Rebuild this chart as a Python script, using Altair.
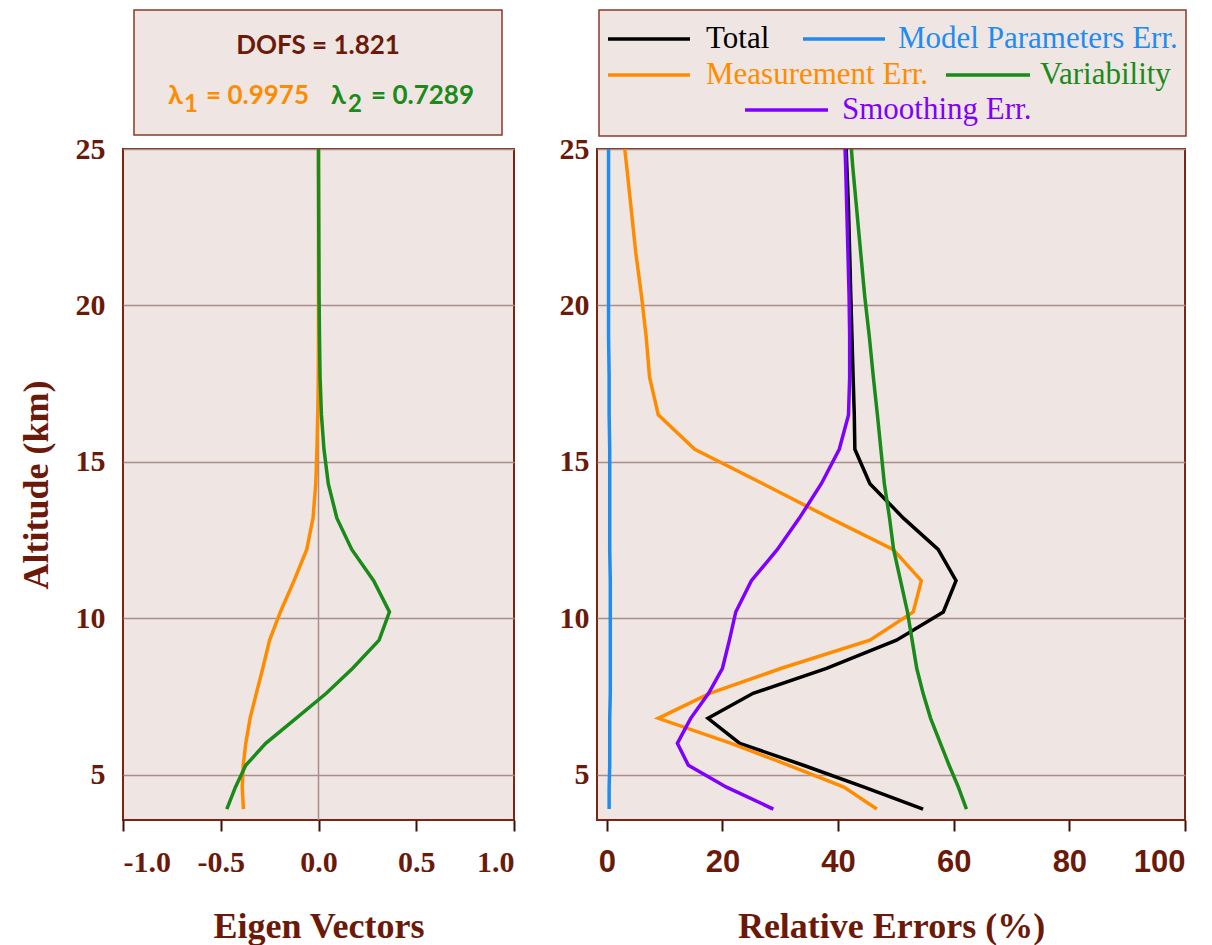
import altair as alt
import pandas as pd

# ---------------- data ----------------
altitude = [3.9, 4.6, 5.3, 6.0, 6.8, 7.6, 8.4, 9.3, 10.2, 11.2, 12.2, 13.2,
            14.3, 15.4, 16.5, 17.7, 19.0, 20.3, 21.7, 23.1, 24.5, 25.0]

eigvec_1 = [-0.384, -0.39, -0.385, -0.372, -0.35, -0.318, -0.285, -0.25, -0.195,
            -0.125, -0.06, -0.028, -0.014, -0.008, -0.004, -0.001, 0.0, 0.0, 0.0,
            0.0, 0.0, 0.0]
eigvec_2 = [-0.469, -0.425, -0.372, -0.27, -0.115, 0.04, 0.175, 0.31, 0.363, 0.282,
            0.17, 0.094, 0.05, 0.028, 0.015, 0.008, 0.005, 0.003, 0.002, 0.001,
            0.0, 0.0]

total = [54.7, 44.5, 34.0, 23.0, 17.5, 25.3, 38.0, 50.1, 58.2, 60.4, 57.3, 51.3,
         45.5, 42.9, 42.8, 42.6, 42.4, 42.2, 42.0, 41.8, 41.5, 41.4]
model_params = [0.4, 0.4, 0.5, 0.5, 0.5, 0.6, 0.6, 0.6, 0.6, 0.6, 0.5, 0.5, 0.5,
                0.5, 0.4, 0.4, 0.3, 0.3, 0.3, 0.3, 0.3, 0.3]
measurement = [46.7, 41.0, 31.5, 21.5, 8.9, 17.8, 30.2, 45.5, 53.0, 54.4, 49.5,
               38.6, 27.0, 15.2, 8.9, 7.4, 6.8, 6.0, 5.0, 4.2, 3.4, 3.1]
smoothing = [28.8, 20.7, 14.1, 12.2, 14.5, 17.6, 20.0, 21.2, 22.3, 25.0, 29.5, 33.3,
             37.1, 40.2, 41.8, 42.0, 42.0, 41.9, 41.7, 41.5, 41.3, 41.2]
variability = [62.2, 60.8, 59.2, 57.7, 56.0, 54.7, 53.6, 52.8, 52.0, 50.8, 49.6,
               48.9, 48.0, 47.4, 46.8, 46.1, 45.4, 44.6, 43.9, 43.2, 42.5, 42.3]

eig_ticks = [-1.0, -0.5, 0.0, 0.5, 1.0]
err_ticks = [0, 20, 40, 60, 80, 100]
alt_ticks = [5, 10, 15, 20, 25]

# ---------------- styles ----------------
SERIF = "Liberation Serif"
NARROW = "Liberation Sans Narrow, Arial Narrow, Liberation Sans"
SANS = "Lato"
LABEL = "#6B1A0A"
FRAME = "#7B2512"
BOXLINE = "#8A3A2A"
GRID = "#A88E88"
BG = "#EFE6E3"
TICK = "#3A1208"
LW = 3.5

C_ORANGE = "#FF8C00"
C_GREEN = "#1A8A1A"
C_BLUE = "#1E8CF0"
C_PURPLE = "#7F00FF"
C_BLACK = "#000000"

n = len(altitude)
left_df = pd.DataFrame({
    "alt": altitude * 2,
    "value": eigvec_1 + eigvec_2,
    "series": ["lambda1"] * n + ["lambda2"] * n,
})
right_names = ["Model", "Total", "Measurement", "Smoothing", "Variability"]
right_vals = [model_params, total, measurement, smoothing, variability]
right_df = pd.DataFrame({
    "alt": altitude * len(right_names),
    "value": sum(right_vals, []),
    "series": sum([[s] * n for s in right_names], []),
})
one = pd.DataFrame({"k": [0]})

y_scale = alt.Scale(domain=[3.55, 25], nice=False, zero=False)


def y_enc(title, pad):
    return alt.Y(
        "alt:Q", scale=y_scale,
        axis=alt.Axis(values=alt_ticks, title=title, grid=True, gridColor=GRID,
                      gridWidth=1.5, domain=False, ticks=False,
                      labelFont=SERIF, labelFontSize=30, labelFontWeight="bold",
                      labelColor=LABEL, labelPadding=pad,
                      titleFont=SERIF, titleFontSize=36, titleFontWeight="bold",
                      titleColor=LABEL, titlePadding=20),
    )


x_left = alt.X(
    "value:Q", scale=alt.Scale(domain=[-1, 1], nice=False),
    axis=alt.Axis(values=eig_ticks, title="Eigen Vectors", grid=False, domain=False,
                  labelExpr="datum.value < 0 ? '-' + format(-datum.value, '.1f') : format(datum.value, '.1f')",
                  tickSize=11, tickWidth=2, tickColor=TICK,
                  labelFont=SERIF, labelFontSize=30, labelFontWeight="bold",
                  labelColor=LABEL, labelPadding=16,
                  titleFont=SERIF, titleFontSize=36, titleFontWeight="bold",
                  titleColor=LABEL, titlePadding=32),
)
x_right = alt.X(
    "value:Q", scale=alt.Scale(domain=[-1.7, 100], nice=False),
    axis=alt.Axis(values=err_ticks, title="Relative Errors (%)", grid=False, domain=False,
                  tickSize=11, tickWidth=2, tickColor=TICK,
                  labelFont=NARROW, labelFontSize=31, labelFontWeight="bold",
                  labelColor=LABEL, labelPadding=16,
                  titleFont=SERIF, titleFontSize=36, titleFontWeight="bold",
                  titleColor=LABEL, titlePadding=32),
)


def text_at(txt, x, y, color, font, size, weight="normal", align="left", baseline="alphabetic"):
    return alt.Chart(one).mark_text(
        text=txt, font=font, fontSize=size, fontWeight=weight, color=color,
        align=align, baseline=baseline,
    ).encode(x=alt.value(x), y=alt.value(y))


def legend_line(x1, x2, y, color):
    return alt.Chart(one).mark_rule(color=color, strokeWidth=LW).encode(
        x=alt.value(x1), x2=alt.value(x2), y=alt.value(y))


# ---------------- left panel ----------------
zero_rule = alt.Chart(pd.DataFrame({"value": [0.0]})).mark_rule(
    color=GRID, strokeWidth=1.5).encode(x=x_left)

left_lines = [
    alt.Chart(left_df).transform_filter(alt.datum.series == s).mark_line(
        color=c, strokeWidth=LW).encode(x=x_left, y=y_enc("Altitude (km)", 18), order="alt:Q")
    for s, c in [("lambda1", C_ORANGE), ("lambda2", C_GREEN)]
]

left_box = alt.Chart(one).mark_rect(fill=BG, stroke=BOXLINE, strokeWidth=1.5).encode(
    x=alt.value(11), x2=alt.value(379), y=alt.value(-139), y2=alt.value(-14))

left_texts = [
    text_at("DOFS = 1.821", 195, -95, LABEL, SANS, 26, "bold", align="center"),
    text_at("λ", 45, -45, C_ORANGE, SANS, 27, "bold"),
    text_at("1", 61, -37, C_ORANGE, SANS, 24, "bold"),
    text_at("= 0.9975", 83, -45, C_ORANGE, SANS, 26, "bold"),
    text_at("λ", 208, -45, C_GREEN, SANS, 27, "bold"),
    text_at("2", 225, -37, C_GREEN, SANS, 24, "bold"),
    text_at("= 0.7289", 248, -45, C_GREEN, SANS, 26, "bold"),
]

left = alt.layer(zero_rule, *left_lines, left_box, *left_texts).properties(
    width=391, height=671)

# ---------------- right panel ----------------
right_colors = {"Model": C_BLUE, "Total": C_BLACK, "Measurement": C_ORANGE,
                "Smoothing": C_PURPLE, "Variability": C_GREEN}
right_lines = [
    alt.Chart(right_df).transform_filter(alt.datum.series == s).mark_line(
        color=right_colors[s], strokeWidth=LW).encode(x=x_right, y=y_enc(None, 8), order="alt:Q")
    for s in ["Model", "Total", "Measurement", "Smoothing", "Variability"]
]

right_box = alt.Chart(one).mark_rect(fill=BG, stroke=BOXLINE, strokeWidth=1.5).encode(
    x=alt.value(2), x2=alt.value(589), y=alt.value(-139), y2=alt.value(-13))

LEG = 31
right_legend = [
    legend_line(11, 93, -110, C_BLACK),
    text_at("Total", 109, -110, C_BLACK, SERIF, LEG, baseline="middle"),
    legend_line(206, 288, -110, C_BLUE),
    text_at("Model Parameters Err.", 301, -110, C_BLUE, SERIF, LEG, baseline="middle"),
    legend_line(11, 93, -74, C_ORANGE),
    text_at("Measurement Err.", 109, -74, C_ORANGE, SERIF, LEG, baseline="middle"),
    legend_line(349, 433, -74, C_GREEN),
    text_at("Variability", 443, -74, C_GREEN, SERIF, LEG, baseline="middle"),
    legend_line(148, 231, -39, C_PURPLE),
    text_at("Smoothing Err.", 245, -39, C_PURPLE, SERIF, LEG, baseline="middle"),
]

right = alt.layer(*right_lines, right_box, *right_legend).properties(
    width=588, height=671)

chart = alt.hconcat(left, right, spacing=42).configure_view(
    fill=BG, stroke=FRAME, strokeWidth=2
).properties(
    padding={"left": 9, "top": 0, "right": 0, "bottom": 0},
    background="white",
)

chart.save("out.html", embed_options={"renderer": "svg", "actions": False})
